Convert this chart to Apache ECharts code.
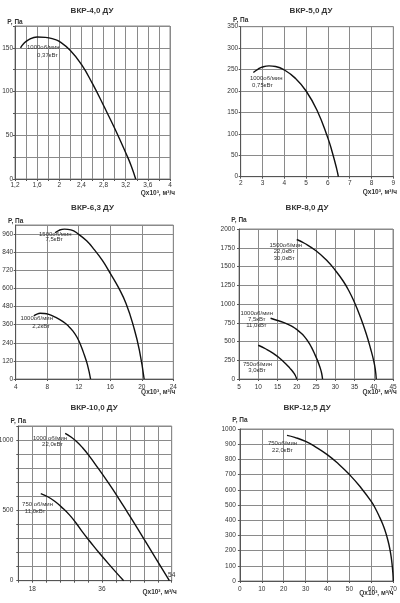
<!DOCTYPE html>
<html><head><meta charset="utf-8">
<script src="https://cdn.jsdelivr.net/npm/echarts@6/dist/echarts.min.js"></script>
<style>html,body{margin:0;padding:0;background:#fff}#c{width:400px;height:603px}</style>
</head><body><div id="c"></div>
<script>
// ---- DATA ----
const chartTitles = ['ВКР-4,0 ДУ', 'ВКР-5,0 ДУ', 'ВКР-6,3 ДУ', 'ВКР-8,0 ДУ', 'ВКР-10,0 ДУ', 'ВКР-12,5 ДУ'];
const yAxisName = 'P, Па';
const xAxisName = 'Qx10³, м³/ч';

// ВКР-4,0: 1000 об/мин, 0,37 кВт
const vkr40_a_q = [1.30, 1.35, 1.45, 1.60, 1.75, 1.90, 2.00, 2.20, 2.40, 2.60, 2.80, 3.00, 3.20, 3.30, 3.38];
const vkr40_a_p = [150, 154.5, 159.5, 162.5, 162, 160, 157.5, 147, 131, 109, 84, 58, 30, 15, 0];
// ВКР-5,0: 1000 об/мин, 0,75 кВт
const vkr50_a_q = [2.58, 2.80, 3.00, 3.30, 3.60, 4.00, 4.50, 5.00, 5.50, 6.00, 6.20, 6.40, 6.48];
const vkr50_a_p = [243, 251, 256, 258.5, 257, 249, 230, 200, 155, 90, 57, 19, 0];
// ВКР-6,3: 1500 об/мин 7,5 кВт ; 1000 об/мин 2,2 кВт
const vkr63_a_q = [9.0, 9.5, 10.2, 11.0, 12.0, 13.0, 14.0, 15.0, 16.0, 17.0, 18.0, 19.0, 19.7, 20.3];
const vkr63_a_p = [968, 985, 993, 988, 958, 915, 855, 785, 700, 610, 500, 340, 190, 0];
const vkr63_b_q = [6.3, 6.7, 7.1, 7.6, 8.2, 9.0, 10.0, 10.7, 11.3, 11.8, 12.24, 12.7, 13.1, 13.5];
const vkr63_b_p = [418, 430, 435, 434, 428, 410, 380, 350, 315, 275, 225, 160, 95, 0];
// ВКР-8,0: 1500 об/мин ; 1000 об/мин ; 750 об/мин
const vkr80_a_q = [20, 22, 25, 28, 30, 32, 33.5, 35, 36.5, 38, 39.2, 40, 40.4, 40.65];
const vkr80_a_p = [1860, 1810, 1710, 1570, 1450, 1310, 1180, 1020, 830, 610, 400, 240, 130, 0];
const vkr80_b_q = [13.2, 15, 16.5, 18, 19, 20, 21, 22, 23, 23.8, 24.6, 25.4, 26.1, 26.45, 26.7];
const vkr80_b_p = [810, 780, 755, 722, 695, 660, 618, 565, 495, 425, 340, 245, 145, 80, 0];
const vkr80_c_q = [10, 12, 13.9, 15.5, 17, 18.2, 19.1, 19.6, 20];
const vkr80_c_p = [450, 400, 342, 280, 210, 145, 90, 50, 0];
// ВКР-10,0: 1000 об/мин 22,0 кВт ; 750 об/мин 11,0 кВт
const vkr100_a_q = [26.5, 28, 29.5, 31, 32.7, 35, 37.8, 40, 42.5, 45, 47.1, 50, 53.4];
const vkr100_a_p = [1048, 1022, 988, 945, 888, 800, 690, 598, 490, 380, 285, 153, 0];
const vkr100_b_q = [20.2, 22, 23.8, 25.5, 27.6, 29.3, 31, 33, 35.2, 38.5, 41.6];
const vkr100_b_p = [619, 597, 565, 525, 468, 410, 345, 275, 200, 95, 0];
// ВКР-12,5: 750 об/мин 22,0 кВт
const vkr125_a_q = [21.5, 25, 30, 35, 40, 45, 50, 55, 60, 62, 63.5, 65, 66, 67, 68, 68.8, 69.4, 69.8, 70];
const vkr125_a_p = [958, 945, 918, 878, 830, 770, 700, 618, 522, 472, 428, 380, 342, 296, 240, 180, 115, 55, 0];

// curve labels (text)
const curveLabels = [
  ['1000об/мин', '0,37кВт'],
  ['1000об/мин', '0,75кВт'],
  ['1500об/мин', '7,5кВт'],
  ['1000об/мин', '2,2кВт'],
  ['1500об/мин', '22,0кВт', '30,0кВт'],
  ['1000об/мин', '7,5кВт', '11,0кВт'],
  ['750об/мин', '3,0кВт'],
  ['1000 об/мин', '22,0кВт'],
  ['750 об/мин', '11,0кВт'],
  ['750об/мин', '22,0кВт']
];

// axis scales
const xMin = [1.2, 2, 4, 5, 14.4, 0];
const xMax = [4, 9, 24, 45, 54, 70];
const xStep = [0.2, 1, 4, 5, 3.6, 10];
const yMin = [0, 0, 0, 0, 0, 0];
const yMax = [175, 350, 1020, 2000, 1100, 1000];
const yStep = [25, 50, 120, 250, 100, 100];

// ---- LAYOUT ----
const grids = [
  {left: 15, top: 26, width: 155, height: 153},
  {left: 240.7, top: 26.7, width: 152.6, height: 150},
  {left: 15.7, top: 225, width: 157.6, height: 154},
  {left: 239, top: 229, width: 154, height: 150},
  {left: 18.3, top: 426, width: 153.4, height: 154.7},
  {left: 239.9, top: 429, width: 153.4, height: 152}
];
const titlePos = [[92, 11], [311, 11], [92.5, 208], [307, 208], [94, 408], [307, 408]];
const yLabelMargin = [2, 2.5, 2.5, 4, 5, 4];
const xLabelMargin = [3, 3, 5, 5, 5, 5];
const yNameGap = [0.7, 1.7, 0.7, 5, 1.7, 5];
// x-axis name: right edge x and centre y
const xNamePos = [[175, 193.2], [397, 192.7], [175.3, 392.7], [396.7, 392.7], [176.7, 592], [393.5, 593.3]];
// curve label line positions [x, y] per label group
const labelPos = [
  [[43.3, 47.8], [47.5, 55.2]],
  [[266.2, 78.3], [262.5, 85.7]],
  [[55.3, 234.3], [54.2, 239.6]],
  [[36.7, 318.3], [41, 326]],
  [[285.8, 245], [284.2, 251.7], [284.2, 258.3]],
  [[256.7, 313.3], [256.7, 319], [256.4, 325]],
  [[257.5, 364], [257, 370.7]],
  [[50, 438.3], [52.5, 444.5]],
  [[37.5, 504.3], [35, 511.7]],
  [[282.5, 443.3], [282.5, 450.7]]
];

const FONT = '"Liberation Sans", Arial, Helvetica, sans-serif';
const TXT = '#333';
const GRIDC = '#8a8a8a';
const AXISC = '#555';

function fmtNum(v) { return String(Math.round(v * 10) / 10).replace('.', ','); }
const xFormatters = [
  v => (Math.round((v - 1.2) / 0.2) % 2 === 0) ? fmtNum(v) : '',
  v => fmtNum(v), v => fmtNum(v), v => fmtNum(v),
  v => {
    const k = Math.round(v / 3.6);
    if (k % 5 !== 0) return '';
    return v >= 53.9 ? '{up|' + fmtNum(v) + '}' : fmtNum(v);
  },
  v => fmtNum(v)
];
const yFormatters = [
  v => (Math.round(v) % 50 === 0) ? String(Math.round(v)) : '',
  v => String(v), v => String(v), v => String(v),
  v => (Math.round(v) % 500 === 0) ? String(Math.round(v)) : '',
  v => String(v)
];

const zip = (q, p) => q.map((x, i) => [x, p[i]]);
const curves = [
  [0, vkr40_a_q, vkr40_a_p],
  [1, vkr50_a_q, vkr50_a_p],
  [2, vkr63_a_q, vkr63_a_p],
  [2, vkr63_b_q, vkr63_b_p],
  [3, vkr80_a_q, vkr80_a_p],
  [3, vkr80_b_q, vkr80_b_p],
  [3, vkr80_c_q, vkr80_c_p],
  [4, vkr100_a_q, vkr100_a_p],
  [4, vkr100_b_q, vkr100_b_p],
  [5, vkr125_a_q, vkr125_a_p]
];

const option = {
  backgroundColor: '#fff',
  animation: false,
  textStyle: {fontFamily: FONT},
  title: chartTitles.map((t, i) => ({
    text: t, left: titlePos[i][0], top: titlePos[i][1], padding: 0,
    textAlign: 'center', textVerticalAlign: 'middle',
    textStyle: {fontSize: 8, fontWeight: 'bold', color: TXT, fontFamily: FONT}
  })),
  grid: grids.map(g => Object.assign({
    show: true, borderColor: GRIDC, borderWidth: 1, backgroundColor: 'transparent',
    containLabel: false, outerBoundsMode: 'none'
  }, g)),
  xAxis: grids.map((g, i) => ({
    type: 'value', gridIndex: i, min: xMin[i], max: xMax[i], interval: xStep[i],
    axisLine: {show: true, lineStyle: {color: AXISC, width: 1}},
    axisTick: {show: true, length: 2, lineStyle: {color: AXISC}},
    axisLabel: {fontSize: 6.5, color: TXT, margin: xLabelMargin[i], formatter: xFormatters[i],
      fontFamily: FONT, hideOverlap: false,
      rich: {up: {fontSize: 6.5, color: TXT, fontFamily: FONT, padding: [-20, 0, 0, 0]}}},
    splitLine: {show: true, lineStyle: {color: GRIDC, width: 1}}
  })),
  yAxis: grids.map((g, i) => ({
    type: 'value', gridIndex: i, min: yMin[i], max: yMax[i], interval: yStep[i],
    name: yAxisName, nameLocation: 'end', nameGap: yNameGap[i],
    nameTextStyle: {fontSize: 6.5, fontWeight: 'bold', color: TXT, fontFamily: FONT},
    axisLine: {show: true, lineStyle: {color: AXISC, width: 1}},
    axisTick: {show: true, length: 2, lineStyle: {color: AXISC}},
    axisLabel: {fontSize: 6.5, color: TXT, margin: yLabelMargin[i], formatter: yFormatters[i],
      showMaxLabel: i === 2 ? false : null, fontFamily: FONT, hideOverlap: false},
    splitLine: {show: true, lineStyle: {color: GRIDC, width: 1}}
  })),
  series: curves.map(([gi, q, p]) => ({
    type: 'line', xAxisIndex: gi, yAxisIndex: gi, data: zip(q, p),
    smooth: 0.5, showSymbol: false, symbol: 'none', silent: true,
    lineStyle: {color: '#111', width: 1.4}
  })),
  graphic: [].concat(
    curveLabels.flatMap((lines, k) => lines.map((t, j) => ({
      type: 'text', silent: true, x: labelPos[k][j][0], y: labelPos[k][j][1], z: 100,
      style: {text: t, align: 'center', verticalAlign: 'middle', fill: TXT,
        fontSize: 6, fontFamily: FONT}
    }))),
    xNamePos.map(([x, y]) => ({
      type: 'text', silent: true, x: x, y: y, z: 100,
      style: {text: xAxisName, align: 'right', verticalAlign: 'middle', fill: TXT,
        fontSize: 6.5, fontWeight: 'bold', fontFamily: FONT}
    }))
  )
};

const chart = echarts.init(document.getElementById('c'), null, {renderer: 'canvas', width: 400, height: 603});
chart.setOption(option);
</script>
</body></html>
